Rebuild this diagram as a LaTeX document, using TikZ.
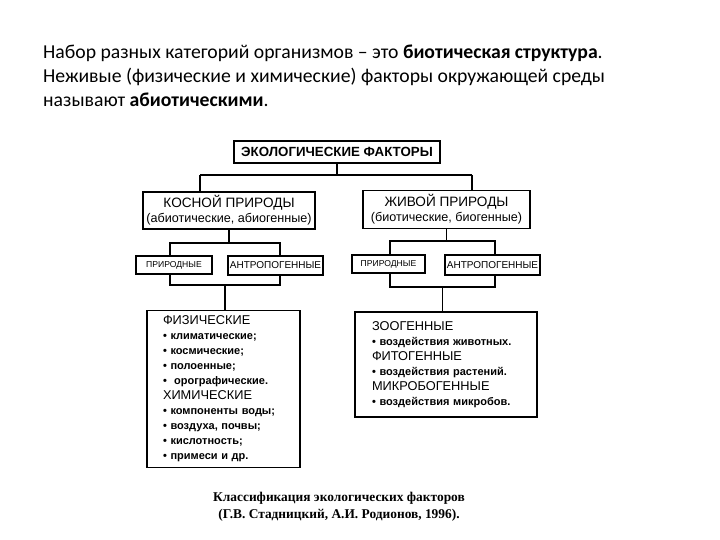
\documentclass[tikz,border=0pt]{standalone}
\usepackage{fontspec}
\setmainfont{Carlito}
\newfontfamily\boxfont{Liberation Sans}
\newfontfamily\capfont{Liberation Serif}
\usepackage{tikz}
\usetikzlibrary{calc}
\newcommand\bulA[1]{{\bfseries\fontsize{11}{15}\selectfont •~#1}}
\newcommand\hdA[1]{{\fontsize{12.8}{15}\selectfont #1}}
\newcommand\kindA[1]{{\fontsize{13.6}{15}\selectfont #1}}
\newcommand\kindB[1]{{\fontsize{12.6}{15}\selectfont #1}}

\begin{document}
\begin{tikzpicture}[
    x=1pt, y=-1pt,
    lead/.style={anchor=base west, inner sep=0pt, font=\fontsize{19.7}{23}\selectfont},
    head/.style={rectangle, draw=black, line width=1.8pt, fill=white, inner sep=0pt,
                 font=\boxfont\bfseries\fontsize{13.3}{16}\selectfont},
    kind/.style={rectangle, draw=black, line width=1.7pt, fill=white, inner sep=0pt,
                 align=center, font=\boxfont\fontsize{12.6}{15}\selectfont},
    sub/.style={rectangle, draw=black, line width=1.5pt, fill=white, inner sep=0pt,
                font=\boxfont\fontsize{8.6}{10}\selectfont},
    wide/.style={sub, font=\boxfont\fontsize{10}{11}\selectfont},
    frame/.style={rectangle, draw=black, line width=1.4pt, inner sep=0pt},
    list/.style={rectangle, draw=black, line width=1.8pt, fill=white, inner sep=0pt,
                 align=left, font=\boxfont\fontsize{11}{15}\selectfont},
    link/.style={draw=black, line width=1.5pt},
    note/.style={inner sep=0pt, align=center, font=\capfont\bfseries\fontsize{13.4}{17}\selectfont},
]
    \useasboundingbox (0,0) rectangle (720,540);

    % intro text
    \node[lead] (line1) at (43,59) {Набор разных категорий организмов – это \textbf{биотическая структура}.};
    \node[lead] (line2) at (43,83) {Неживые (физические и химические) факторы окружающей среды};
    \node[lead] (line3) at (43,107) {называют \textbf{абиотическими}.};

    % top levels
    \node[head, minimum width=206pt, minimum height=22pt] (eco) at (337,152) {ЭКОЛОГИЧЕСКИЕ ФАКТОРЫ};
    \node[kind, minimum width=172pt, minimum height=37pt] (kos) at (229,210.5)
        {\kindA{КОСНОЙ ПРИРОДЫ}\\\kindB{(абиотические, абиогенные)}};
    \node[kind, minimum width=167pt, minimum height=38pt] (ziv) at (446.5,209.5)
        {\kindA{ЖИВОЙ ПРИРОДЫ}\\\kindB{(биотические, биогенные)}};

    % brackets behind the small boxes
    \node[frame, minimum width=110pt, minimum height=42pt] (frL) at (225,264) {};
    \node[frame, minimum width=105pt, minimum height=46pt] (frR) at (442.5,264) {};

    \node[sub, minimum width=76pt, minimum height=18pt] (natL) at (174,265) {ПРИРОДНЫЕ};
    \node[wide, minimum width=95pt, minimum height=19pt] (antL) at (275.5,265.5) {АНТРОПОГЕННЫЕ};
    \node[sub, minimum width=73pt, minimum height=18pt] (natR) at (388.5,264) {ПРИРОДНЫЕ};
    \node[wide, minimum width=95pt, minimum height=20pt] (antR) at (492.5,265) {АНТРОПОГЕННЫЕ};

    % lists
    \node[list, text width=121pt, minimum width=153pt, minimum height=157pt] (abio) at (223.5,389)
        {\hdA{ФИЗИЧЕСКИЕ}\\
         \bulA{климатические;}\\
         \bulA{космические;}\\
         \bulA{полоенные;}\\
         \bulA{\ орографические.}\\
         \hdA{ХИМИЧЕСКИЕ}\\
         \bulA{компоненты воды;}\\
         \bulA{воздуха, почвы;}\\
         \bulA{кислотность;}\\
         \bulA{примеси и др.}};
    \node[list, text width=148pt, minimum width=182pt, minimum height=105pt] (bio) at (446,364.5)
        {\hdA{ЗООГЕННЫЕ}\\
         \bulA{воздействия животных.}\\
         \hdA{ФИТОГЕННЫЕ}\\
         \bulA{воздействия растений.}\\
         \hdA{МИКРОБОГЕННЫЕ}\\
         \bulA{воздействия микробов.}};

    % caption
    \node[note] (cap) at (339,507) {Классификация экологических факторов\\(Г.В. Стадницкий, А.И. Родионов, 1996).};

    % connectors
    \coordinate (jL) at (200,175);
    \coordinate (jR) at (472,175);
    \draw[link] (eco.south) -- (eco.south |- jL);
    \draw[link] (jL) -- (jR);
    \draw[link] (jL) -- (jL |- kos.north);
    \draw[link] (jR) -- (jR |- ziv.north);
    \draw[link] (kos.south) -- (kos.south |- frL.north);
    \draw[link] (ziv.south) -- (ziv.south |- frR.north);
    \draw[link] (frL.south) -- (frL.south |- abio.north);
    \draw[link] (frR.south) -- (frR.south |- bio.north);
\end{tikzpicture}
\end{document}
